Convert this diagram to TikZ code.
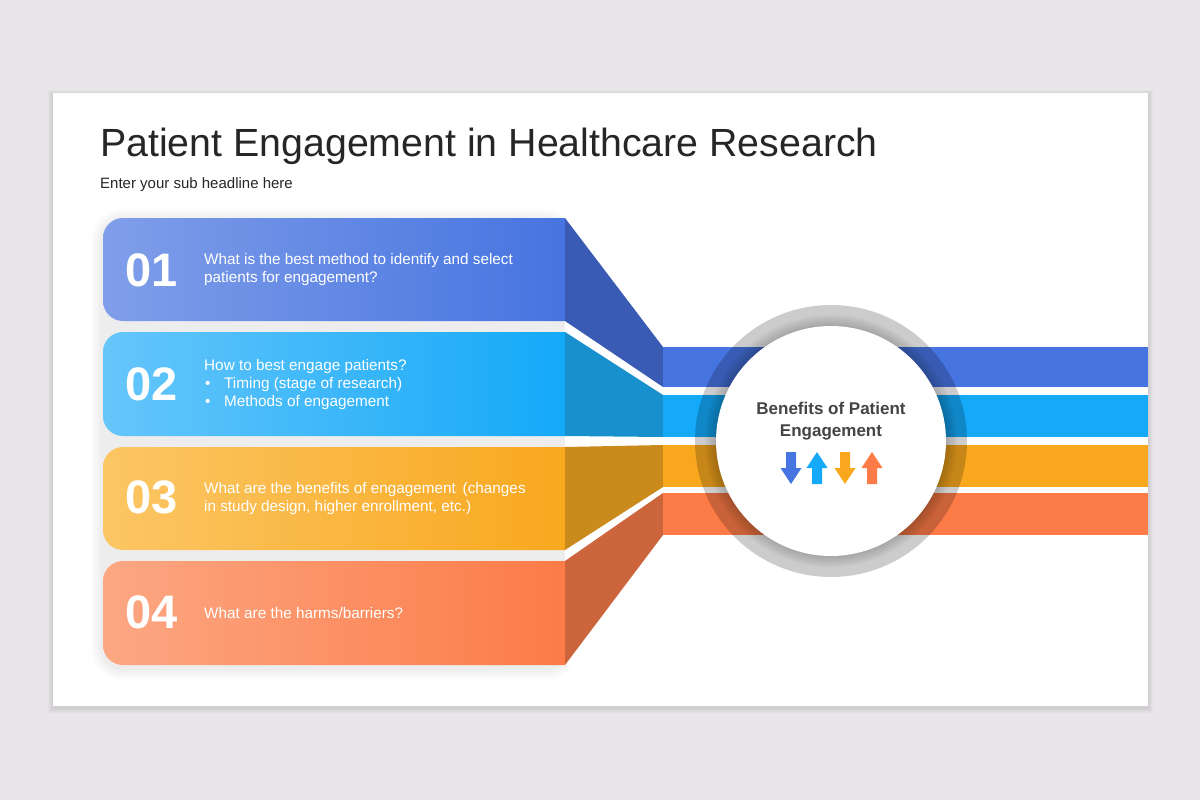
\documentclass[tikz,border=0pt]{standalone}
\usepackage{fontspec}
\setmainfont{Liberation Sans}

\definecolor{pagegray}{HTML}{E8E6E8}
\definecolor{titlegray}{HTML}{262626}
\definecolor{hubgray}{HTML}{444444}
\definecolor{boxblue}{HTML}{809EE9}
\definecolor{bandblue}{HTML}{4674E0}
\definecolor{sideblue}{HTML}{3A5BB4}
\definecolor{boxsky}{HTML}{66C6FA}
\definecolor{bandsky}{HTML}{14A9F9}
\definecolor{sidesky}{HTML}{1790CD}
\definecolor{boxamber}{HTML}{FBC665}
\definecolor{bandamber}{HTML}{F9A81E}
\definecolor{sideamber}{HTML}{CA8B1C}
\definecolor{boxcoral}{HTML}{FCA783}
\definecolor{bandcoral}{HTML}{FC7B47}
\definecolor{sidecoral}{HTML}{CC653B}

\begin{document}
\begin{tikzpicture}[x=1pt,y=-1pt,
    num/.style={text=white,font=\fontsize{47}{47}\selectfont\bfseries,inner sep=0,anchor=west},
    ques/.style={text=white,font=\fontsize{15.3}{18}\selectfont,inner sep=0,anchor=west,align=left},
    haze/.style={black,opacity=0.018}]
   \tikzstyle{hubdisc}=[circle,inner sep=0,minimum size=230,fill=white]

   \useasboundingbox (0,0) rectangle (1200,800);
   \fill[pagegray] (0,0) rectangle (1200,800);
   % soft shadow of the slide and of the boxes
   \foreach \s in {1,...,5}
     \fill[haze] (53-\s,93-\s+2) rectangle (1148+\s,706+\s+2);
   \fill[white] (53,93) rectangle (1148,706);
   \foreach \s in {2,4,...,12}
     \fill[haze,opacity=0.012,rounded corners=20+\s] (103-\s,218-\s+3) rectangle (565+\s,665+\s+3);
   \fill[white] (565,218) rectangle (663,665);

   \node[anchor=base west,inner sep=0,text=titlegray,font=\fontsize{39.3}{40}\selectfont]
        (title) at (100,156) {Patient Engagement in Healthcare Research};
   \node[anchor=base west,inner sep=0,text=titlegray,font=\fontsize{15}{16}\selectfont]
        (sub) at (100,188) {Enter your sub headline here};

   % boxes, side faces and bands
   \foreach \yt/\yb/\c in {218/321/blue,332/436/sky,447/550/amber,561/665/coral}
     \path[left color=box\c,right color=band\c] (565,\yt) -- (123,\yt)
          arc[start angle=270,end angle=180,radius=20] -- (103,\yb-20)
          arc[start angle=180,end angle=90,radius=20] -- (565,\yb) -- cycle;

   \fill[sideblue]  (565,218) -- (663,347) -- (663,387) -- (565,321) -- cycle;
   \fill[sidesky]   (565,332) -- (663,395) -- (663,437) -- (565,436) -- cycle;
   \fill[sideamber] (565,447) -- (663,445) -- (663,487) -- (565,550) -- cycle;
   \fill[sidecoral] (565,561) -- (663,493) -- (663,535) -- (565,665) -- cycle;

   \fill[bandblue]  (663,347) rectangle (1148,387);
   \fill[bandsky]   (663,395) rectangle (1148,437);
   \fill[bandamber] (663,445) rectangle (1148,487);
   \fill[bandcoral] (663,493) rectangle (1148,535);

   \node[num] (n1) at (125,270) {01};
   \node[num] (n2) at (125,384) {02};
   \node[num] (n3) at (125,497) {03};
   \node[num] (n4) at (125,612) {04};

   \node[ques] (q1) at (204,270) {What is the best method to identify and select\\
                                  patients for engagement?};
   \node[ques] (q2) at (204,385) {How to best engage patients?\\
                                  \makebox[20pt][l]{\hspace{1pt}\textbullet}Timing (stage of research)\\
                                  \makebox[20pt][l]{\hspace{1pt}\textbullet}Methods of engagement};
   \node[ques] (q3) at (204,499) {What are the benefits of engagement\, (changes\\
                                  in study design, higher enrollment, etc.)};
   \node[ques] (q4) at (204,613) {What are the harms/barriers?};

   % hub
   \node[circle,inner sep=0,minimum size=272,fill=black,fill opacity=0.2] (ring) at (831,441) {};
   \foreach \r in {116,118,...,126}
     \fill[black,opacity=0.03] (ring.center) circle[radius=\r];
   \node[hubdisc] (hub) at (ring.center) {};
   \node[inner sep=0,align=center,text=hubgray,font=\fontsize{17}{22}\selectfont\bfseries]
        (hubtext) at (831,421) {Benefits of Patient\\Engagement};

   \foreach \x/\c/\d in {791/blue/1,817/sky/-1,845/amber/1,872/coral/-1}
     \fill[band\c] (\x-5,468-16*\d) -- (\x+5,468-16*\d) -- (\x+5,468) -- (\x+10.5,468)
          -- (\x,468+16*\d) -- (\x-10.5,468) -- (\x-5,468) -- cycle;
\end{tikzpicture}
\end{document}
